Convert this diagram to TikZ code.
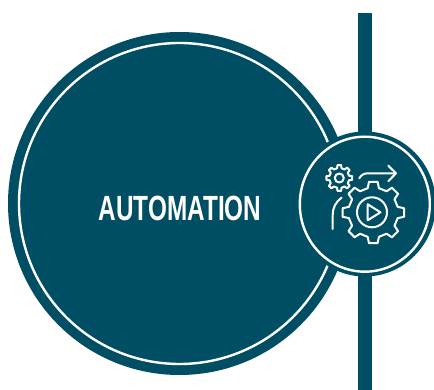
\documentclass[tikz,border=0pt]{standalone}
\usepackage{fontspec}
\setmainfont{Liberation Sans}
\definecolor{tealdark}{HTML}{004E64}
\tikzset{
	ringline/.style={draw=white, line width=2.4pt},
	iconline/.style={draw=white, line width=2pt, line join=round, line cap=round},
}
% cogwheel: center, outer radius, root radius
\newcommand{\cogwheel}[3]{
	\draw[iconline, shift={(#1)}] (-13:#3)
		\foreach \a in {0,45,...,315}{
			-- ({\a-13}:#3) -- ({\a-8}:#2) -- ({\a+8}:#2) -- ({\a+13}:#3)
		} -- cycle;
}
\begin{document}
\begin{tikzpicture}[x=1pt,y=-1pt]
\useasboundingbox (0,0) rectangle (434,390);

% bar and discs
\fill[tealdark] (358,13) rectangle (372,390);
\fill[tealdark] (179.5,203.5) circle[radius=171.5];
\draw[ringline] (179.5,203.5) circle[radius=160.5];
\fill[tealdark] (364.8,204) circle[x radius=71, y radius=72.5];
\draw[ringline] (364.8,204.2) circle[x radius=65, y radius=67.5];

\node[white, font=\bfseries\fontsize{35}{35}\selectfont, xscale=0.695] (title) at (180,208.5) {AUTOMATION};

% icon
\cogwheel{373.3,212.5}{31}{25}
\draw[iconline] (372,212.3) circle[radius=15];
\draw[iconline] (367.7,204.3) -- (367.7,220.3) -- (380.5,212.3) -- cycle;
\cogwheel{339.3,178}{13}{10}
\draw[iconline] (339.3,178) circle[radius=4.5];
\draw[iconline] (359.3,178.3) .. controls (361,175) and (364,173.3) .. (368,173.3) -- (396,173.3);
\draw[iconline] (388.3,165.7) -- (396,173.3) -- (388.3,181.2);
\draw[iconline] (341.7,197.7) .. controls (335.5,202) and (332.7,208) .. (332.7,215) -- (332.7,229);
\end{tikzpicture}
\end{document}
